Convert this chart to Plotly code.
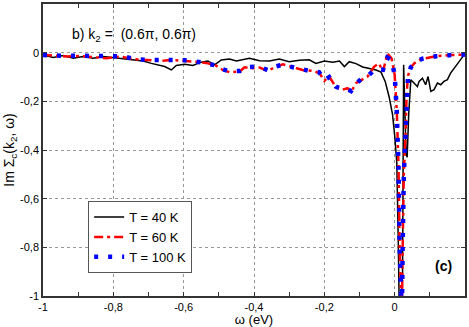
import plotly.graph_objects as go

# T = 40 K
w40 = [-1.0, -0.971, -0.942, -0.914, -0.886, -0.857, -0.829, -0.8, -0.772, -0.744,
       -0.715, -0.692, -0.673, -0.654, -0.635, -0.621, -0.597, -0.574, -0.55, -0.531,
       -0.512, -0.493, -0.47, -0.45, -0.413, -0.384, -0.356, -0.328, -0.3, -0.271,
       -0.243, -0.224, -0.2, -0.176, -0.157, -0.143, -0.129, -0.11, -0.091, -0.072,
       -0.053, -0.039, -0.027, -0.016, -0.006, 0.0, 0.006, 0.010, 0.013, 0.018,
       0.0225, 0.0255, 0.0285, 0.0325, 0.0355, 0.040, 0.046, 0.0553, 0.0647, 0.0695,
       0.079, 0.088, 0.095, 0.1027, 0.112, 0.1215, 0.131, 0.14, 0.15, 0.159,
       0.169, 0.178, 0.188, 0.197, 0.2]
im40 = [-0.009, -0.02, -0.012, -0.023, -0.016, -0.023, -0.016, -0.02, -0.026, -0.03,
        -0.034, -0.044, -0.05, -0.057, -0.071, -0.053, -0.048, -0.053, -0.039, -0.034,
        -0.05, -0.03, -0.026, -0.034, -0.023, -0.033, -0.034, -0.026, -0.037, -0.031,
        -0.029, -0.044, -0.034, -0.039, -0.034, -0.057, -0.037, -0.045, -0.059, -0.064,
        -0.071, -0.08, -0.118, -0.18, -0.255, -0.34, -0.45, -0.75, -1.05, -1.05,
        -0.9, -0.05, -0.2, -0.42, -0.43, -0.25, -0.111, -0.125, -0.139, -0.118,
        -0.105, -0.132, -0.098, -0.159, -0.152, -0.125, -0.132, -0.118, -0.111, -0.084,
        -0.064, -0.044, -0.023, -0.01, -0.005]

# T = 60 K
w60 = [-1.0, -0.971, -0.933, -0.895, -0.857, -0.819, -0.781, -0.744, -0.706, -0.668,
       -0.63, -0.592, -0.555, -0.531, -0.508, -0.489, -0.47, -0.441, -0.427, -0.403,
       -0.384, -0.361, -0.337, -0.318, -0.29, -0.262, -0.233, -0.214, -0.2, -0.186,
       -0.167, -0.148, -0.134, -0.124, -0.11, -0.096, -0.077, -0.058, -0.045, -0.033,
       -0.021, -0.009, 0.0, 0.006, 0.011, 0.0142, 0.0175, 0.0204, 0.0227, 0.026,
       0.0317, 0.034, 0.038, 0.046, 0.055, 0.065, 0.079, 0.117, 0.16, 0.2]
im60 = [-0.009, -0.012, -0.016, -0.014, -0.018, -0.023, -0.016, -0.026, -0.03, -0.034,
        -0.03, -0.034, -0.039, -0.044, -0.053, -0.071, -0.08, -0.078, -0.06, -0.064,
        -0.061, -0.075, -0.057, -0.048, -0.061, -0.071, -0.075, -0.084, -0.116, -0.098,
        -0.143, -0.152, -0.146, -0.162, -0.125, -0.112, -0.098, -0.057, -0.044, -0.078,
        -0.003, -0.023, -0.091, -0.24, -0.47, -0.8, -1.05, -1.1, -0.8, -0.5,
        -0.31, -0.17, -0.095, -0.06, -0.045, -0.033, -0.025, -0.015, -0.01, -0.008]

# T = 100 K
w100 = [-1.0, -0.96, -0.93, -0.89, -0.85, -0.81, -0.77, -0.74, -0.7, -0.66,
        -0.63, -0.59, -0.55, -0.53, -0.51, -0.49, -0.47, -0.44, -0.42, -0.4,
        -0.38, -0.36, -0.34, -0.32, -0.29, -0.26, -0.235, -0.215, -0.2, -0.186,
        -0.167, -0.148, -0.134, -0.124, -0.11, -0.096, -0.077, -0.058, -0.045, -0.033,
        -0.021, -0.009, 0.0, 0.006, 0.011, 0.0142, 0.0175, 0.0204, 0.0227, 0.026,
        0.0317, 0.034, 0.038, 0.046, 0.055, 0.065, 0.079, 0.117, 0.16, 0.2]
im100 = [-0.01, -0.014, -0.013, -0.013, -0.012, -0.014, -0.016, -0.026, -0.03, -0.03,
         -0.031, -0.031, -0.04, -0.045, -0.052, -0.068, -0.077, -0.075, -0.06, -0.058,
         -0.062, -0.072, -0.057, -0.05, -0.06, -0.072, -0.077, -0.08, -0.113, -0.1,
         -0.14, -0.15, -0.15, -0.158, -0.128, -0.11, -0.098, -0.07, -0.066, -0.07,
         -0.02, -0.03, -0.091, -0.24, -0.47, -0.8, -1.05, -1.1, -0.8, -0.5,
         -0.31, -0.17, -0.095, -0.06, -0.045, -0.033, -0.025, -0.015, -0.01, -0.008]

xticks = [-1, -0.8, -0.6, -0.4, -0.2, 0]
xtick_text = ['-1', '-0,8', '-0,6', '-0,4', '-0,2', '0']
yticks = [-1, -0.8, -0.6, -0.4, -0.2, 0]
ytick_text = ['-1', '-0,8', '-0,6', '-0,4', '-0,2', '0']

fig = go.Figure()
fig.add_trace(go.Scatter(x=w40, y=im40, mode='lines', name='T = 40 K',
                         line=dict(color='black', width=1.5)))
fig.add_trace(go.Scatter(x=w60, y=im60, mode='lines', name='T = 60 K',
                         line=dict(color='#ff0000', width=2.5, dash='9px,4px,3px,4px')))
fig.add_trace(go.Scatter(x=w100, y=im100, mode='lines', name='T = 100 K',
                         line=dict(color='#0000ff', width=4.5, dash='4px,10px')))

axis_common = dict(
    showline=True, linecolor='#333333', linewidth=1.5, mirror='ticks',
    ticks='inside', ticklen=4, tickcolor='#333333',
    showgrid=True, gridcolor='#999999', griddash='dot', gridwidth=1,
    zeroline=False, tickfont=dict(size=11, color='black'),
)

fig.update_layout(
    width=469, height=327,
    margin=dict(l=43, r=4, t=2, b=30),
    plot_bgcolor='white', paper_bgcolor='white',
    font=dict(family='Liberation Sans, Arial, sans-serif', color='black'),
    xaxis=dict(range=[-1, 0.2], tickmode='array', tickvals=xticks, ticktext=xtick_text,
               minor=dict(tickmode='array', tickvals=[-0.9, -0.7, -0.5, -0.3, -0.1, 0.1],
                          ticks='inside', ticklen=4, tickcolor='#333333', showgrid=False),
               title=dict(text='ω (eV)', font=dict(size=13), standoff=3),
               **axis_common),
    yaxis=dict(range=[-1, 0.2], tickmode='array', tickvals=yticks, ticktext=ytick_text,
               title=dict(text='Im Σ<sub>c</sub>(k<sub>2</sub>, ω)', font=dict(size=14), standoff=2),
               **axis_common),
    legend=dict(x=0.107, y=0.325, xanchor='left', yanchor='top',
                bgcolor='white', bordercolor='#555555', borderwidth=1,
                font=dict(size=13), tracegroupgap=0),
    showlegend=True,
)

fig.add_annotation(x=0.064, y=0.93, xref='paper', yref='paper', xanchor='left',
                   text='b) k<sub>2</sub> =  (0.6π, 0.6π)', showarrow=False,
                   font=dict(size=14))
fig.add_annotation(x=0.975, y=0.07, xref='paper', yref='paper', xanchor='right',
                   text='<b>(c)</b>', showarrow=False, font=dict(size=14))

fig.write_html("out.html", config={'displayModeBar': False},
               post_script="document.body.style.margin='0';")
